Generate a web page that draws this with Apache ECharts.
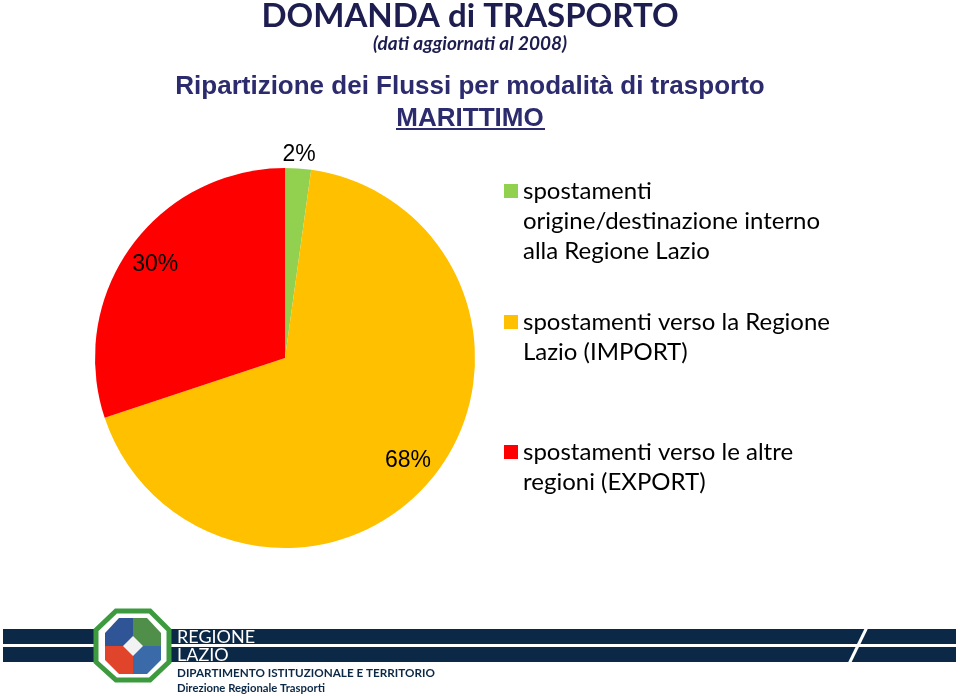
<!DOCTYPE html>
<html>
<head>
<meta charset="utf-8">
<title>Domanda di trasporto - marittimo</title>
<script src="https://cdn.jsdelivr.net/npm/echarts@6/dist/echarts.min.js"></script>
<style>
  html, body { margin: 0; padding: 0; background: #fff; }
  #chart { width: 960px; height: 696px; }
</style>
</head>
<body>
<div id="chart"></div>
<script>
// categorie e quote (%)
var categorie = [
  'spostamenti origine/destinazione interno alla Regione Lazio',
  'spostamenti verso la Regione Lazio (IMPORT)',
  'spostamenti verso le altre regioni (EXPORT)'
];
var quote = [2.2, 67.7, 30.1];
var colori = ['#92d050', '#ffc000', '#ff0000'];

// testo della legenda, a capo come nell'originale
var vociLegenda = [
  'spostamenti\norigine/destinazione interno\nalla Regione Lazio',
  'spostamenti verso la Regione\nLazio (IMPORT)',
  'spostamenti verso le altre\nregioni (EXPORT)'
];
var topLegenda = [116, 277, 407];
var LH = 30;

var navy = '#0b2846';

function fetta(i, conEtichetta, trasparente) {
  return {
    name: categorie[i],
    value: quote[i],
    itemStyle: { color: trasparente ? 'rgba(0,0,0,0)' : colori[i] },
    label: { show: conEtichetta }
  };
}

var etichetta = {
  position: 'inside',
  fontFamily: 'Liberation Sans, Arial',
  fontSize: 23,
  color: '#000',
  formatter: function (p) { return Math.round(p.percent) + '%'; }
};

var chart = echarts.init(document.getElementById('chart'));

chart.setOption({
  animation: false,
  title: [{
    text: 'DOMANDA di TRASPORTO',
    left: 470, top: 0, textAlign: 'center', padding: 0,
    textStyle: { fontFamily: 'Lato', fontWeight: 'bold', fontSize: 33, color: '#1d1d4f' }
  }, {
    text: '(dati aggiornati al 2008)',
    left: 470, top: 34, textAlign: 'center', padding: 0,
    textStyle: { fontFamily: 'Lato', fontStyle: 'italic', fontWeight: 'bold', fontSize: 19, color: '#1d1d4f' }
  }, {
    text: 'Ripartizione dei Flussi per modalità di trasporto',
    left: 470, top: 74, textAlign: 'center', padding: 0,
    textStyle: { fontFamily: 'Liberation Sans, Arial', fontWeight: 'bold', fontSize: 26, color: '#2b2b6e' }
  }, {
    text: 'MARITTIMO',
    left: 470, top: 106, textAlign: 'center', padding: 0,
    textStyle: { fontFamily: 'Liberation Sans, Arial', fontWeight: 'bold', fontSize: 26, color: '#2b2b6e' }
  }],
  legend: categorie.map(function (nome, i) {
    var righe = vociLegenda[i].split('\n').length;
    return {
      data: [nome],
      left: 504,
      top: topLegenda[i],
      padding: 0,
      icon: 'rect',
      itemWidth: 14,
      itemHeight: 14,
      selectedMode: false,
      // righe vuote in testa: la prima riga resta all'altezza del quadratino
      formatter: function () {
        return new Array(righe).join(' \n') + vociLegenda[i];
      },
      textStyle: {
        fontFamily: 'Lato',
        fontSize: 24,
        color: '#000',
        lineHeight: LH
      }
    };
  }),
  series: [{
    // torta principale
    type: 'pie',
    center: [285, 358],
    radius: 190,
    startAngle: 90,
    clockwise: true,
    label: { show: false },
    labelLine: { show: false },
    emphasis: { disabled: true },
    data: [0, 1, 2].map(function (i) { return fetta(i, false, false); })
  }, {
    // etichette interne (30%, 68%)
    type: 'pie',
    center: [285, 358],
    radius: [124, 190],
    startAngle: 90,
    silent: true,
    label: etichetta,
    labelLine: { show: false },
    emphasis: { disabled: true },
    data: [0, 1, 2].map(function (i) { return fetta(i, i !== 0, true); })
  }, {
    // etichetta esterna (2%)
    type: 'pie',
    center: [285, 358],
    radius: [190, 212],
    startAngle: 90,
    silent: true,
    label: etichetta,
    labelLine: { show: false },
    emphasis: { disabled: true },
    data: [0, 1, 2].map(function (i) { return fetta(i, i === 0, true); })
  }],
  graphic: [
    // fascia Regione Lazio in basso
    { type: 'rect', shape: { x: 3, y: 629, width: 953, height: 15 }, style: { fill: navy } },
    { type: 'rect', shape: { x: 3, y: 647, width: 953, height: 15 }, style: { fill: navy } },
    { type: 'line', shape: { x1: 868, y1: 625, x2: 848, y2: 666 }, style: { stroke: '#fff', lineWidth: 3 } },
    { type: 'polygon', shape: { points: [[116, 611], [150, 611], [169, 630], [169, 662], [150, 680], [116, 680], [96, 662], [96, 630]] },
      style: { fill: '#fff', stroke: '#3d9a3f', lineWidth: 5 } },
    { type: 'polygon', shape: { points: [[133, 618], [133, 646], [105, 646], [105, 633], [119, 618]] }, style: { fill: '#2f5597' } },
    { type: 'polygon', shape: { points: [[133, 618], [147, 618], [161, 633], [161, 646], [133, 646]] }, style: { fill: '#4f8f4a' } },
    { type: 'polygon', shape: { points: [[105, 646], [133, 646], [133, 674], [119, 674], [105, 660]] }, style: { fill: '#e0452c' } },
    { type: 'polygon', shape: { points: [[133, 646], [161, 646], [161, 660], [147, 674], [133, 674]] }, style: { fill: '#3a6aa8' } },
    { type: 'polygon', shape: { points: [[133, 636], [143, 646], [133, 656], [123, 646]] }, style: { fill: '#f2f2f2' } },
    { type: 'text', x: 177, y: 637, style: { text: 'REGIONE', fill: '#fff', fontFamily: 'Lato', fontSize: 18, verticalAlign: 'middle' } },
    { type: 'text', x: 177, y: 655, style: { text: 'LAZIO', fill: '#fff', fontFamily: 'Lato', fontSize: 18, verticalAlign: 'middle' } },
    { type: 'text', x: 177, y: 673, style: { text: 'DIPARTIMENTO ISTITUZIONALE E TERRITORIO', fill: navy, fontFamily: 'Lato', fontWeight: 'bold', fontSize: 11.7, verticalAlign: 'middle' } },
    { type: 'text', x: 177, y: 688, style: { text: 'Direzione Regionale Trasporti', fill: navy, fontFamily: 'Lato', fontWeight: 'bold', fontSize: 11.3, verticalAlign: 'middle' } },
    // sottolineatura di MARITTIMO
    { type: 'line', shape: { x1: 396, y1: 129, x2: 545, y2: 129 }, style: { stroke: '#2b2b6e', lineWidth: 2 } }
  ]
});
</script>
</body>
</html>
